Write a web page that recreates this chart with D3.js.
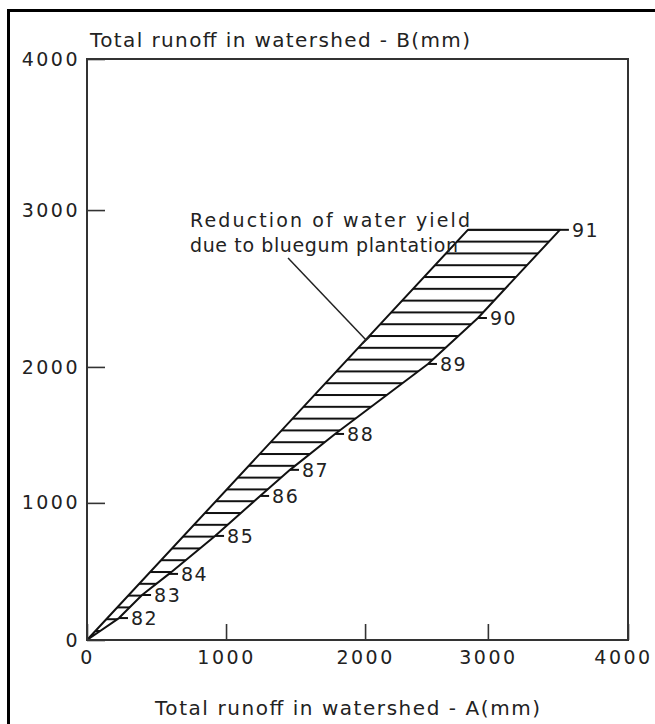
<!DOCTYPE html>
<html>
<head>
<meta charset="utf-8">
<script src="https://cdn.jsdelivr.net/npm/d3@7"></script>
<style>
   body { margin: 0; background: #fff; }
   svg text { font-family: "DejaVu Sans", sans-serif; fill: #222; }
</style>
</head>
<body>
<div id="chart"></div>
<script>
//--------------------------------------------------------------
// DATA (cumulative runoff, mm)
//--------------------------------------------------------------
var years = ["82", "83", "84", "85", "86", "87", "88", "89", "90", "91"];
var runoffA = [230, 396, 590, 921, 1245, 1460, 1784, 2512, 2919, 3514];
var runoffB = [160, 328, 482, 759, 1051, 1243, 1507, 2019, 2312, 2874];

// line the curve would follow without the plantation
var expectedA = [0, 2837];
var expectedB = [0, 2874];

var xTicks = [0, 1000, 2000, 3000, 4000];
var yTicks = [0, 1000, 2000, 3000, 4000];

var xTitle = "Total runoff in watershed - A(mm)";
var yTitle = "Total runoff in watershed - B(mm)";
var noteLines = ["Reduction of water yield", "due to bluegum plantation"];
var noteText = [741, 2892];
var noteFrom = [1446, 2694];
var noteTip = [2008, 2172];
//--------------------------------------------------------------

//--------------------------------------------------------------
// CHART SIZE
//--------------------------------------------------------------
var width = 655;
var height = 724;
var margin = { top: 59, right: 27, bottom: 84, left: 87 };
var chartWidth = width - margin.left - margin.right;
var chartHeight = height - margin.top - margin.bottom;

var svg = d3.select("#chart").append("svg")
   .attr("width", width)
   .attr("height", height);

// outer frame of the figure (right and bottom sides fall off the page)
svg.append("rect")
   .attr("x", 8.5)
   .attr("y", 10.5)
   .attr("width", 800)
   .attr("height", 800)
   .attr("fill", "none")
   .attr("stroke", "#000")
   .attr("stroke-width", 3);

var chartGroup = svg.append("g")
   .attr("transform", `translate(${margin.left}, ${margin.top})`);

// the drawn axes are not evenly spaced, so the scales bend at each tick
var xScale = d3.scaleLinear()
   .domain(xTicks)
   .range([0, 0.257, 0.514, 0.741, 1].map(f => f * chartWidth));
var yScale = d3.scaleLinear()
   .domain(yTicks)
   .range([1, 0.764, 0.530, 0.260, 0].map(f => f * chartHeight));

//--------------------------------------------------------------
// HATCHED AREA
//--------------------------------------------------------------
var topY = yScale(expectedB[1]);
var hatch = svg.append("defs").append("pattern")
   .attr("id", "hatch")
   .attr("patternUnits", "userSpaceOnUse")
   .attr("x", 0)
   .attr("y", topY - 1)
   .attr("width", 20)
   .attr("height", 11.8);
hatch.append("rect")
   .attr("x", 0)
   .attr("y", 0)
   .attr("width", 20)
   .attr("height", 2)
   .attr("fill", "#111");

var outline = [[expectedA[0], expectedB[0]], [expectedA[1], expectedB[1]]];
for (var i = years.length - 1; i >= 0; i--) {
   outline.push([runoffA[i], runoffB[i]]);
}

var line = d3.line()
   .x(d => xScale(d[0]))
   .y(d => yScale(d[1]));

chartGroup.append("path")
   .attr("d", line(outline) + "Z")
   .attr("fill", "url(#hatch)")
   .attr("stroke", "#111")
   .attr("stroke-width", 2)
   .attr("stroke-linejoin", "round");

// year marks on the curve
var marks = chartGroup.selectAll("g.year")
   .data(years)
   .enter()
   .append("g")
   .attr("class", "year")
   .attr("transform", (d, i) => `translate(${xScale(runoffA[i])}, ${yScale(runoffB[i])})`);
marks.append("line")
   .attr("x1", 0)
   .attr("x2", 9)
   .attr("stroke", "#111")
   .attr("stroke-width", 2);
marks.append("text")
   .attr("x", 12)
   .attr("dy", "0.36em")
   .attr("font-size", 19)
   .attr("letter-spacing", 1.5)
   .text(d => d);

//--------------------------------------------------------------
// AXES
//--------------------------------------------------------------
var bottomAxis = d3.axisBottom(xScale)
   .tickValues(xTicks)
   .tickFormat(d3.format("d"))
   .tickSizeInner(-16)
   .tickSizeOuter(0)
   .tickPadding(11);
var leftAxis = d3.axisLeft(yScale)
   .tickValues(yTicks)
   .tickFormat(d3.format("d"))
   .tickSizeInner(-18)
   .tickSizeOuter(0)
   .tickPadding(7);

var xAxis = chartGroup.append("g")
   .attr("transform", `translate(0, ${chartHeight})`)
   .call(bottomAxis);
var yAxis = chartGroup.append("g")
   .call(leftAxis);

[xAxis, yAxis].forEach(ax => {
   ax.select(".domain").remove();
   ax.selectAll("line").attr("stroke", "#333").attr("stroke-width", 1.6);
   ax.selectAll("text")
      .attr("font-size", 19)
      .attr("letter-spacing", 2.5)
      .attr("fill", "#222")
      .attr("font-family", "DejaVu Sans, sans-serif");
});

// last x label sits right at the page edge, nudge it in a little
xAxis.selectAll(".tick text")
   .filter(d => d === xTicks[xTicks.length - 1])
   .attr("dx", -5);

// plot box
chartGroup.append("rect")
   .attr("width", chartWidth)
   .attr("height", chartHeight)
   .attr("fill", "none")
   .attr("stroke", "#333")
   .attr("stroke-width", 2);

// axis titles
chartGroup.append("text")
   .attr("x", 3)
   .attr("y", -12)
   .attr("font-size", 20)
   .attr("textLength", 380)
   .attr("lengthAdjust", "spacing")
   .text(yTitle);

chartGroup.append("text")
   .attr("x", 68)
   .attr("y", chartHeight + 75)
   .attr("font-size", 20)
   .attr("textLength", 385)
   .attr("lengthAdjust", "spacing")
   .text(xTitle);

//--------------------------------------------------------------
// ANNOTATION
//--------------------------------------------------------------
var note = chartGroup.append("text")
   .attr("font-size", 19);
note.append("tspan")
   .attr("x", xScale(noteText[0]))
   .attr("y", yScale(noteText[1]))
   .attr("textLength", 280)
   .attr("lengthAdjust", "spacing")
   .text(noteLines[0]);
note.append("tspan")
   .attr("x", xScale(noteText[0]))
   .attr("y", yScale(noteText[1]) + 24.5)
   .attr("textLength", 268)
   .attr("lengthAdjust", "spacing")
   .text(noteLines[1]);

var x0 = xScale(noteFrom[0]), y0 = yScale(noteFrom[1]);
var x1 = xScale(noteTip[0]), y1 = yScale(noteTip[1]);
chartGroup.append("line")
   .attr("x1", x0).attr("y1", y0)
   .attr("x2", x1).attr("y2", y1)
   .attr("stroke", "#222")
   .attr("stroke-width", 1.5);

// little cross stroke at the tip
var len = Math.hypot(x1 - x0, y1 - y0);
var px = -(y1 - y0) / len * 5, py = (x1 - x0) / len * 5;
chartGroup.append("line")
   .attr("x1", x1 - px).attr("y1", y1 - py)
   .attr("x2", x1 + px).attr("y2", y1 + py)
   .attr("stroke", "#222")
   .attr("stroke-width", 2);
</script>
</body>
</html>
